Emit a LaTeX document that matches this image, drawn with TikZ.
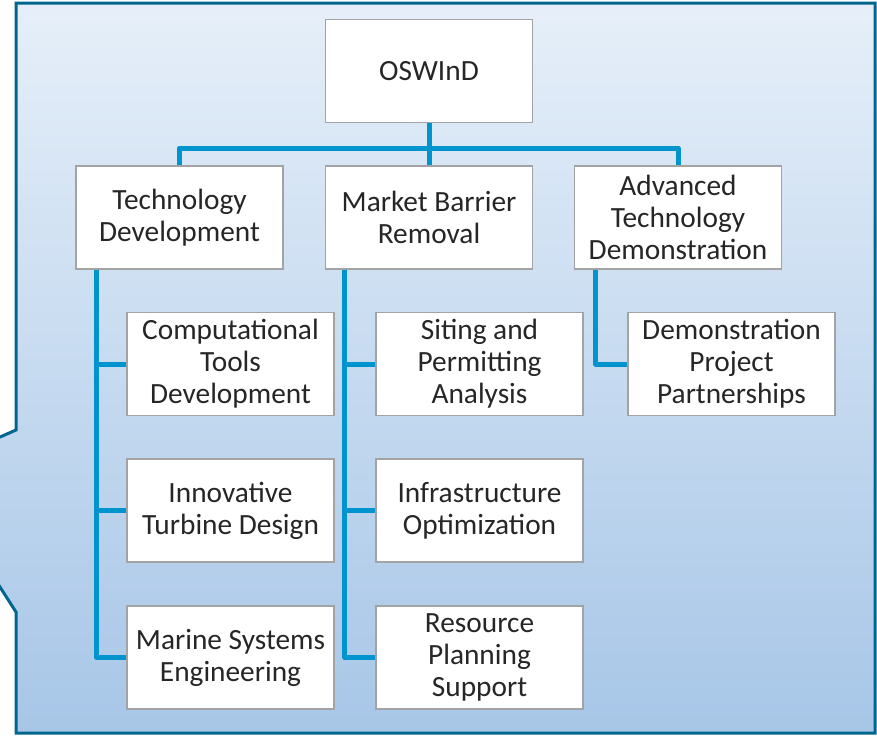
\documentclass[tikz,border=0pt]{standalone}
\usepackage{fontspec}
\setmainfont{Carlito}
\usetikzlibrary{positioning}

\definecolor{bgtop}{HTML}{E6EFF9}
\definecolor{bgbottom}{HTML}{A7C6E7}
\definecolor{frame}{HTML}{00668F}
\definecolor{linkblue}{HTML}{0094CE}
\definecolor{boxgray}{HTML}{A3A3A3}
\definecolor{txtgray}{HTML}{262626}

\tikzset{
    box/.style={rectangle, draw=boxgray, line width=0.9pt, fill=white,
        minimum width=155.25pt, minimum height=77.25pt, inner sep=2pt,
        align=center, text=txtgray, font=\fontsize{22}{24}\selectfont},
    link/.style={draw=linkblue, line width=3.75pt, line join=round}
}

\begin{document}
\begin{tikzpicture}[x=0.75pt, y=-0.75pt]
    \useasboundingbox (0,0) rectangle (877,736);
    \shade[top color=bgtop, bottom color=bgbottom, draw=frame, line width=2.25pt]
        (16,3) -- (875,3) -- (875,733) -- (16,733) -- (16,612) -- (-75,470) -- (16,430) -- cycle;

    \draw (429, 71) node[box] (root) {OSWInD};

    \foreach \name/\x/\txt in {tech/179.5/{Technology\\Development},
                               market/429/{Market Barrier\\Removal},
                               adv/678/{Advanced\\Technology\\Demonstration}}{
        \draw (\x, 217.5) node[box] (\name) {\txt};
    }

    \foreach \row/\y/\txt in {1/364/{Computational\\Tools\\Development},
                              2/510.5/{Innovative\\Turbine Design},
                              3/657.5/{Marine Systems\\Engineering}}{
        \draw (230.5, \y) node[box] (tech\row) {\txt};
    }
    \foreach \row/\y/\txt in {1/364/{Siting and\\Permitting\\Analysis},
                              2/510.5/{Infrastructure\\Optimization},
                              3/657.5/{Resource\\Planning\\Support}}{
        \draw (479.5, \y) node[box] (market\row) {\txt};
    }
    \draw (731.5, 364) node[box] (adv1) {Demonstration\\Project\\Partnerships};

    % top level
    \draw[link] (root) -- (market);
    \draw[link] (root.south) -- ++(0,25) -| (tech.north);
    \draw[link] (root.south) -- ++(0,25) -| (adv.north);

    % sub-tasks
    \foreach \i in {1,2,3}{
        \draw[link] ([xshift=15.75pt]tech.south west) |- (tech\i.west);
        \draw[link] ([xshift=15pt]market.south west) |- (market\i.west);
    }
    \draw[link] ([xshift=16.5pt]adv.south west) |- (adv1.west);
\end{tikzpicture}
\end{document}
